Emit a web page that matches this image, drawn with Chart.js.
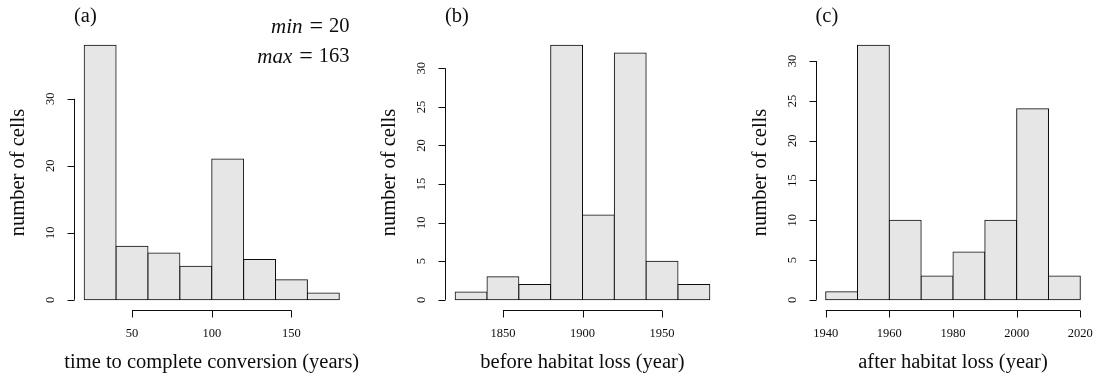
<!DOCTYPE html>
<html>
<head>
<meta charset="utf-8">
<script src="https://cdn.jsdelivr.net/npm/chart.js@4.4.1/dist/chart.umd.min.js"></script>
<style>
  html, body { margin: 0; padding: 0; background: #fff; }
  #wrap { position: relative; width: 1096px; height: 376px; background: #fff; overflow: hidden; }
  #wrap canvas { position: absolute; top: 0; }
</style>
</head>
<body>
<div id="wrap">
  <canvas id="histA" width="366" height="376" style="left:0px"></canvas>
  <canvas id="histB" width="365" height="376" style="left:366px"></canvas>
  <canvas id="histC" width="365" height="376" style="left:731px"></canvas>
</div>
<script>
// (a) time to complete conversion
const breaksA = [20, 40, 60, 80, 100, 120, 140, 160, 180];
const countsA = [38, 8, 7, 5, 21, 6, 3, 1];
const xTicksA = [50, 100, 150];
const yTicksA = [0, 10, 20, 30];

// (b) before habitat loss
const breaksB = [1820, 1840, 1860, 1880, 1900, 1920, 1940, 1960, 1980];
const countsB = [1, 3, 2, 33, 11, 32, 5, 2];
const xTicksB = [1850, 1900, 1950];
const yTicksB = [0, 5, 10, 15, 20, 25, 30];

// (c) after habitat loss
const breaksC = [1940, 1950, 1960, 1970, 1980, 1990, 2000, 2010, 2020];
const countsC = [1, 32, 10, 3, 6, 10, 24, 3];
const xTicksC = [1940, 1960, 1980, 2000, 2020];
const yTicksC = [0, 5, 10, 15, 20, 25, 30];

const SERIF = '"Liberation Serif", "DejaVu Serif", serif';
const INK = '#0d0d0d';

// base-graphics style axes: line only between outer ticks, ticks outside,
// y labels rotated parallel to the axis
const baseAxes = {
  id: 'baseAxes',
  afterDraw(chart, args, opts) {
    const { ctx, chartArea } = chart;
    const xs = chart.scales.x, ys = chart.scales.y;
    const tl = 7;
    ctx.save();
    ctx.strokeStyle = INK;
    ctx.fillStyle = INK;
    ctx.lineWidth = 1;

    // x axis
    const xv = xs.ticks.map(t => t.value);
    const yb = Math.round(chartArea.bottom) + 0.5;
    ctx.beginPath();
    ctx.moveTo(xs.getPixelForValue(xv[0]), yb);
    ctx.lineTo(xs.getPixelForValue(xv[xv.length - 1]), yb);
    xv.forEach(v => {
      const px = Math.round(xs.getPixelForValue(v)) + 0.5;
      ctx.moveTo(px, yb);
      ctx.lineTo(px, yb + tl);
    });
    ctx.stroke();
    ctx.font = '12.5px ' + SERIF;
    ctx.textAlign = 'center';
    ctx.textBaseline = 'middle';
    xv.forEach(v => ctx.fillText(String(v), xs.getPixelForValue(v), chartArea.bottom + 24));

    // y axis
    const yv = ys.ticks.map(t => t.value);
    const xl = Math.round(chartArea.left) + 0.5;
    ctx.beginPath();
    ctx.moveTo(xl, ys.getPixelForValue(yv[0]));
    ctx.lineTo(xl, ys.getPixelForValue(yv[yv.length - 1]));
    yv.forEach(v => {
      const py = Math.round(ys.getPixelForValue(v)) + 0.5;
      ctx.moveTo(xl, py);
      ctx.lineTo(xl - tl, py);
    });
    ctx.stroke();
    yv.forEach(v => {
      ctx.save();
      ctx.translate(chartArea.left - 23, ys.getPixelForValue(v));
      ctx.rotate(-Math.PI / 2);
      ctx.fillText(String(v), 0, 0);
      ctx.restore();
    });

    // titles
    const cx = (chartArea.left + chartArea.right) / 2;
    const cy = (chartArea.top + chartArea.bottom) / 2;
    ctx.font = '20.5px ' + SERIF;
    ctx.fillText(opts.xTitle, cx, chartArea.bottom + 53);
    ctx.save();
    ctx.translate(chartArea.left - 55, cy);
    ctx.rotate(-Math.PI / 2);
    ctx.fillText(opts.yTitle, 0, 0);
    ctx.restore();

    // panel tag
    ctx.textAlign = 'left';
    ctx.fillText(opts.tag, chartArea.left, 17);

    // min / max note, italic names as in math mode
    ctx.textAlign = 'right';
    (opts.notes || []).forEach((n, i) => {
      const y = 27 + i * 30;
      let x = chartArea.right;
      ctx.font = '20.5px ' + SERIF;
      const val = String(n.value);
      ctx.fillText(val, x, y);
      x -= ctx.measureText(val).width + 6;
      ctx.save();
      ctx.font = '24px ' + SERIF;
      ctx.fillText('=', x, y);
      x -= ctx.measureText('=').width + 7;
      ctx.restore();
      ctx.font = 'italic 21px ' + SERIF;
      ctx.fillText(n.name, x, y);
    });
    ctx.restore();
  }
};

function histogram(canvasId, breaks, counts, xTicks, yTicks, pad, labels) {
  const lo = breaks[0], hi = breaks[breaks.length - 1];
  const ymax = Math.max(...counts);
  const dx = (hi - lo) * 0.04, dy = ymax * 0.04;
  const points = counts.map((c, i) => ({ x: (breaks[i] + breaks[i + 1]) / 2, y: c }));
  return new Chart(document.getElementById(canvasId), {
    type: 'bar',
    data: {
      datasets: [{
        data: points,
        backgroundColor: '#e6e6e6',
        borderColor: INK,
        borderWidth: 1,
        borderSkipped: false,
        inflateAmount: 0.5,
        categoryPercentage: 1,
        barPercentage: 1
      }]
    },
    options: {
      responsive: false,
      animation: false,
      devicePixelRatio: 1,
      layout: { padding: pad },
      scales: {
        x: {
          type: 'linear', display: false, offset: false, min: lo - dx, max: hi + dx,
          afterBuildTicks: s => { s.ticks = xTicks.map(v => ({ value: v })); }
        },
        y: {
          type: 'linear', display: false, min: -dy, max: ymax + dy,
          afterBuildTicks: s => { s.ticks = yTicks.map(v => ({ value: v })); }
        }
      },
      plugins: {
        legend: { display: false },
        tooltip: { enabled: false },
        baseAxes: labels
      }
    },
    plugins: [baseAxes]
  });
}

histogram('histA', breaksA, countsA, xTicksA, yTicksA,
  { left: 74, right: 16.5, top: 35, bottom: 66 },
  { xTitle: 'time to complete conversion (years)', yTitle: 'number of cells', tag: '(a)',
    notes: [{ name: 'min', value: 20 }, { name: 'max', value: 163 }] });

histogram('histB', breaksB, countsB, xTicksB, yTicksB,
  { left: 79, right: 11, top: 35, bottom: 66 },
  { xTitle: 'before habitat loss (year)', yTitle: 'number of cells', tag: '(b)' });

histogram('histC', breaksC, countsC, xTicksC, yTicksC,
  { left: 84.5, right: 5.5, top: 35, bottom: 66 },
  { xTitle: 'after habitat loss (year)', yTitle: 'number of cells', tag: '(c)' });
</script>
</body>
</html>
